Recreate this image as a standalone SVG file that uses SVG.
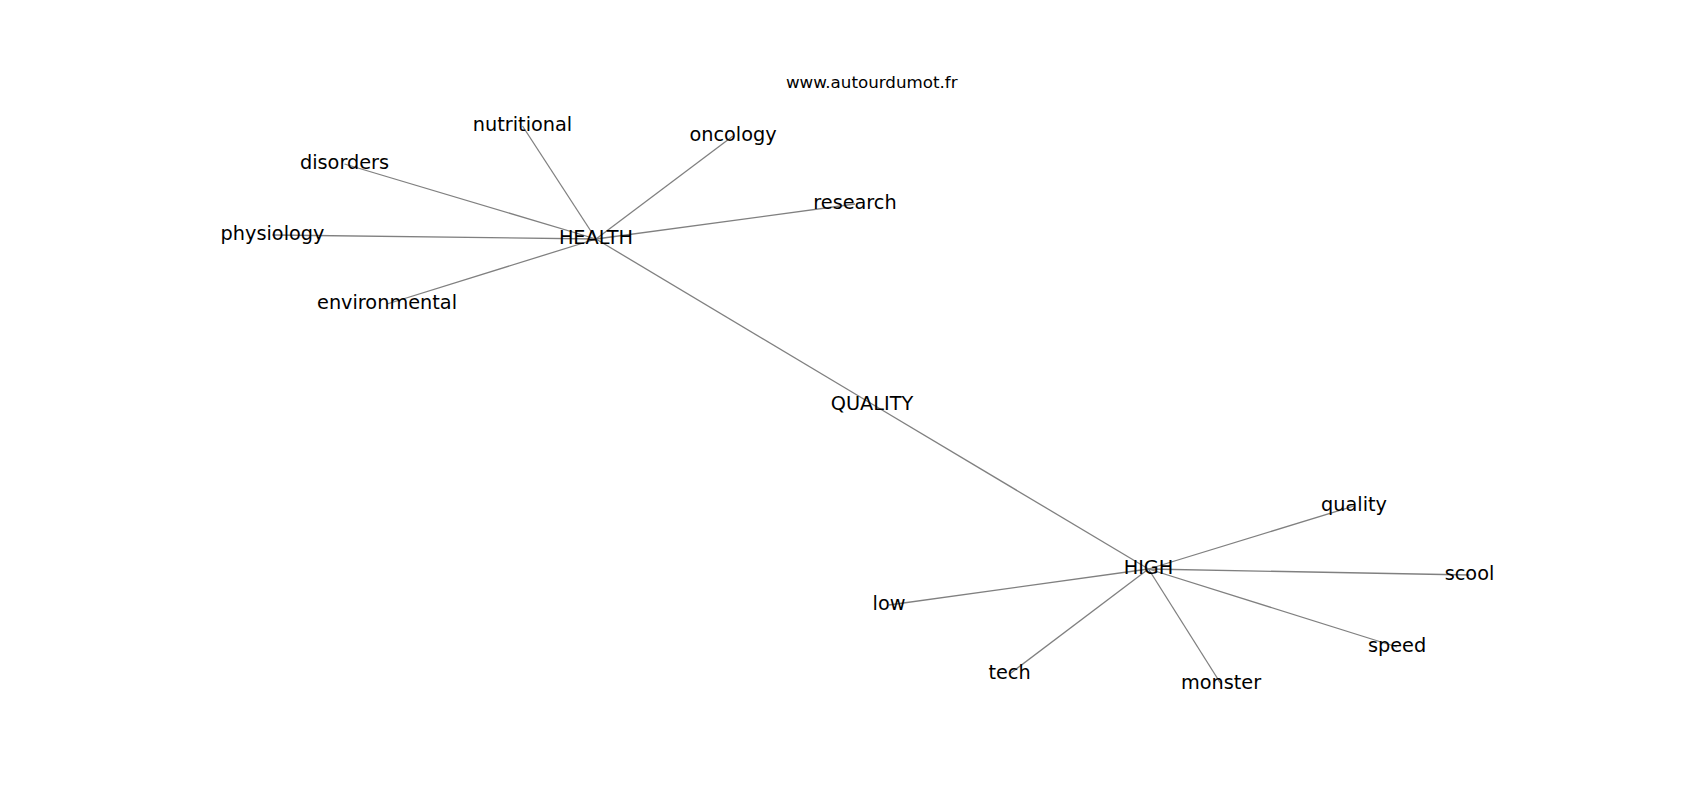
<svg xmlns="http://www.w3.org/2000/svg" width="1700" height="800" viewBox="0 0 1700 800">
<style>
.e{stroke:#808080;stroke-width:1.3;fill:none}
.l{font-family:"DejaVu Sans",sans-serif;font-size:19.3px;fill:#000;text-anchor:middle}
.w{font-family:"DejaVu Sans",sans-serif;font-size:16.7px;fill:#000;text-anchor:middle}
</style>
<rect width="1700" height="800" fill="#fff"/>
<g id="edges">
<line class="e" x1="596" y1="239" x2="522.5" y2="126"/>
<line class="e" x1="596" y1="239" x2="733" y2="136"/>
<line class="e" x1="596" y1="239" x2="344.5" y2="164"/>
<line class="e" x1="596" y1="239" x2="855" y2="204"/>
<line class="e" x1="596" y1="239" x2="272.5" y2="235"/>
<line class="e" x1="596" y1="239" x2="387" y2="304"/>
<line class="e" x1="596" y1="239" x2="872" y2="404"/>
<line class="e" x1="872" y1="404" x2="1148.5" y2="569"/>
<line class="e" x1="1148.5" y1="569" x2="1354" y2="506"/>
<line class="e" x1="1148.5" y1="569" x2="1469.5" y2="575"/>
<line class="e" x1="1148.5" y1="569" x2="889" y2="605"/>
<line class="e" x1="1148.5" y1="569" x2="1009.5" y2="674"/>
<line class="e" x1="1148.5" y1="569" x2="1221" y2="684"/>
<line class="e" x1="1148.5" y1="569" x2="1397" y2="647"/>
</g>
<g id="n-health"><text class="l" x="596" y="243.5">HEALTH</text></g>
<g id="n-nutritional"><text class="l" x="522.5" y="130.5">nutritional</text></g>
<g id="n-oncology"><text class="l" x="733" y="140.5">oncology</text></g>
<g id="n-disorders"><text class="l" x="344.5" y="168.5">disorders</text></g>
<g id="n-research"><text class="l" x="855" y="208.5">research</text></g>
<g id="n-physiology"><text class="l" x="272.5" y="239.5">physiology</text></g>
<g id="n-environmental"><text class="l" x="387" y="308.5">environmental</text></g>
<g id="n-QUALITY"><text class="l" x="872" y="409.5">QUALITY</text></g>
<g id="n-high"><text class="l" x="1148.5" y="573.5">HIGH</text></g>
<g id="n-quality"><text class="l" x="1354" y="510.5">quality</text></g>
<g id="n-scool"><text class="l" x="1469.5" y="579.5">scool</text></g>
<g id="n-low"><text class="l" x="889" y="609.5">low</text></g>
<g id="n-tech"><text class="l" x="1009.5" y="678.5">tech</text></g>
<g id="n-monster"><text class="l" x="1221" y="688.5">monster</text></g>
<g id="n-speed"><text class="l" x="1397" y="651.5">speed</text></g>
<g id="watermark"><text class="w" x="871.7" y="88">www.autourdumot.fr</text></g>
</svg>
